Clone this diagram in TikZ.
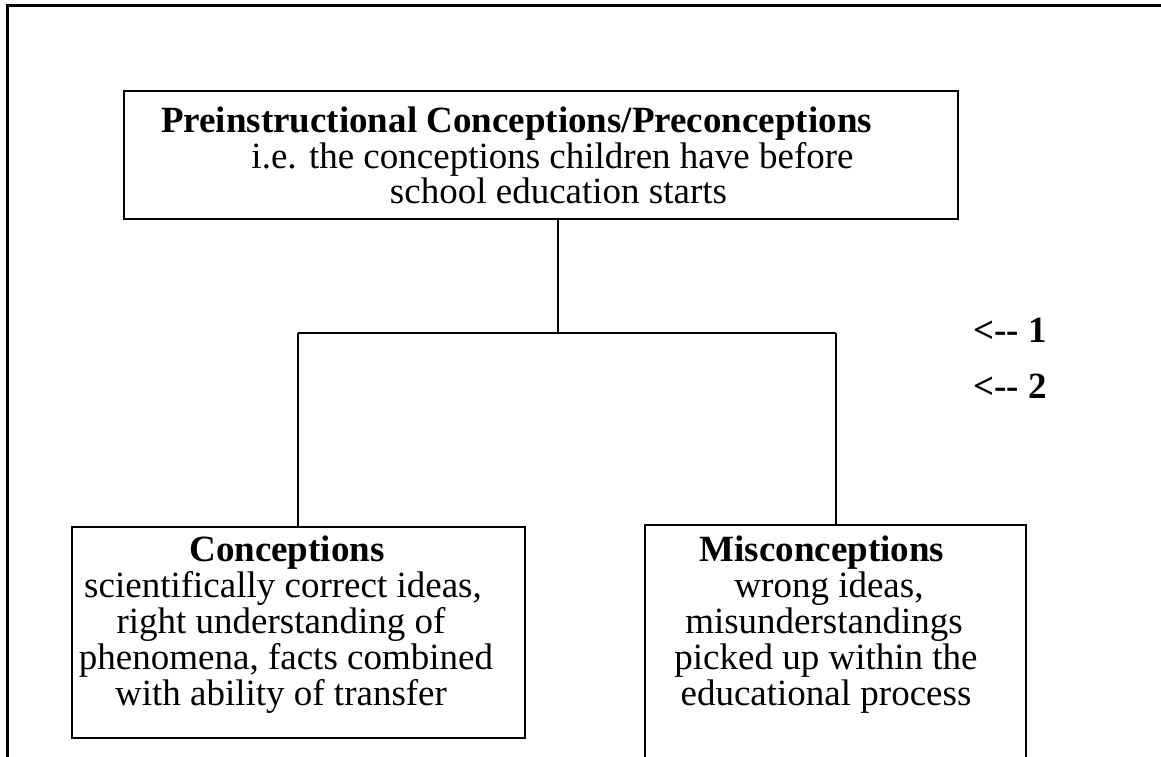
\documentclass[tikz,border=0pt]{standalone}
\usepackage{fontspec}
\setmainfont{Liberation Serif}
\begin{document}
\begin{tikzpicture}[x=1pt,y=-1pt,
  box/.style={draw, line width=2.4pt, inner sep=0pt, anchor=north west},
  txt/.style={font=\fontsize{37}{36}\selectfont, inner sep=0pt, anchor=base},
  bftxt/.style={font=\fontsize{37}{36}\selectfont\bfseries, inner sep=0pt, anchor=base},
  conn/.style={line width=2.4pt},
  frame/.style={line width=3.5pt}]
\useasboundingbox (0,0) rectangle (1161,757);
\clip (0,0) rectangle (1161,757);
% outer frame (top and left sides)
\coordinate (fbl) at (7.5,770);
\coordinate (ftl) at (7.5,5.5);
\coordinate (ftr) at (1175,5.5);
\draw[frame] (fbl) -- (ftl) -- (ftr);
% boxes
\node[box, minimum width=834pt, minimum height=128pt] (top) at (123,90) {};
\node[box, minimum width=453pt, minimum height=211pt] (conc) at (71,526) {};
\node[box, minimum width=381pt, minimum height=260pt] (misc) at (644,524) {};
% top box text
\node[bftxt] (t1) at (516.5,132) {Preinstructional Conceptions/Preconceptions};
\node[txt] (t2) at (552.5,168) {i.e. the conceptions children have before};
\node[txt] (t3) at (558.5,203) {school education starts};
% conceptions text
\node[bftxt] (c1) at (287,561) {Conceptions};
\node[txt] (c2) at (283,597) {scientifically correct ideas,};
\node[txt] (c3) at (281,633) {right understanding of};
\node[txt] (c4) at (286,669) {phenomena, facts combined};
\node[txt] (c5) at (281,705) {with ability of transfer};
% misconceptions text
\node[bftxt] (m1) at (822,561) {Misconceptions};
\node[txt] (m2) at (829,597) {wrong ideas,};
\node[txt] (m3) at (824,633) {misunderstandings};
\node[txt] (m4) at (826,669) {picked up within the};
\node[txt] (m5) at (826,705) {educational process};
% annotations
\node[bftxt, anchor=base west] (a1) at (973,342) {<-\kern0pt- 1};
\node[bftxt, anchor=base west] (a2) at (973,398) {<-\kern0pt- 2};
% connectors
\coordinate (j) at (558,333);
\coordinate (jl) at (298,333);
\coordinate (jr) at (836,333);
\draw[conn] (top.south -| j) -- (j);
\draw[conn] (jl) -- (jr);
\draw[conn] (jl) -- (jl |- conc.north);
\draw[conn] (jr) -- (jr |- misc.north);
\end{tikzpicture}
\end{document}
